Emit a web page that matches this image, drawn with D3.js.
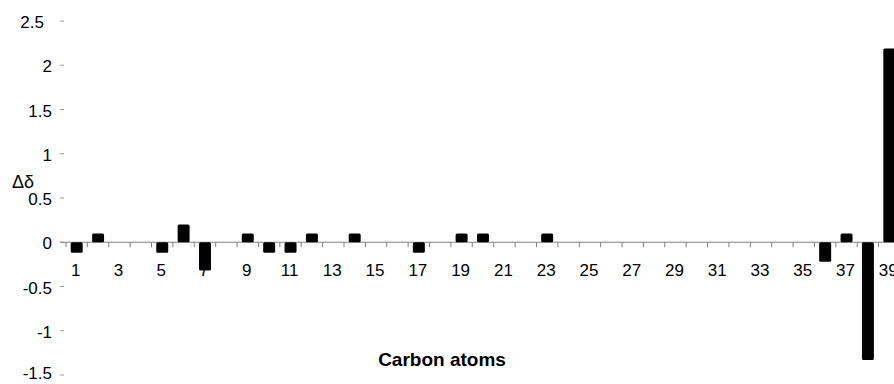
<!DOCTYPE html>
<html>
<head>
<meta charset="utf-8">
<script src="https://cdn.jsdelivr.net/npm/d3@7"></script>
<style>
    body { margin: 0; background: #fff; }
    text { font-family: "Liberation Sans", Arial, sans-serif; fill: #000; }
    .tick-label { font-size: 17px; }
    .axis-title { font-size: 19px; font-weight: bold; }
</style>
</head>
<body>
<div id="chart"></div>
<script>
const carbons = [1, 2, 3, 4, 5, 6, 7, 8, 9, 10, 11, 12, 13, 14, 15, 16, 17, 18, 19, 20,
    21, 22, 23, 24, 25, 26, 27, 28, 29, 30, 31, 32, 33, 34, 35, 36, 37, 38, 39];
const deltaValues = [-0.12, 0.1, 0, 0, -0.12, 0.2, -0.32, 0, 0.1, -0.12, -0.12, 0.1, 0, 0.1, 0, 0, -0.12, 0, 0.1, 0.1,
    0, 0, 0.1, 0, 0, 0, 0, 0, 0, 0, 0, 0, 0, 0, 0, -0.22, 0.1, -1.33, 2.19];
const yTicks = [-1.5, -1, -0.5, 0, 0.5, 1, 1.5, 2, 2.5];
const xLabels = [1, 3, 5, 7, 9, 11, 13, 15, 17, 19, 21, 23, 25, 27, 29, 31, 33, 35, 37, 39];

const WIDTH = 894;
const HEIGHT = 384;

const data = carbons.map((c, i) => ({ carbon: c, delta: deltaValues[i] }));

const xScale = d3.scaleBand()
    .domain(carbons)
    .range([66, 900])
    .paddingInner(0.44)
    .paddingOuter(0.22);

const yScale = d3.scaleLinear()
    .domain([-1.5, 2.5])
    .range([375, 21]);

const svg = d3.select('#chart')
    .append('svg')
    .attr('width', WIDTH)
    .attr('height', HEIGHT);

const y0 = yScale(0);

// y ticks and labels (no axis line)
const yAxis = svg.append('g');
yTicks.forEach(t => {
    yAxis.append('line')
        .attr('x1', 60)
        .attr('x2', 64)
        .attr('y1', yScale(t))
        .attr('y2', yScale(t))
        .attr('stroke', '#999')
        .attr('stroke-width', 1);
    yAxis.append('text')
        .attr('class', 'tick-label')
        .attr('x', t === 2.5 ? 44 : 52)
        .attr('y', Math.min(yScale(t) + 7, 379))
        .attr('text-anchor', 'end')
        .text(t);
});

// category axis along zero
svg.append('line')
    .attr('x1', 60)
    .attr('x2', WIDTH)
    .attr('y1', y0)
    .attr('y2', y0)
    .attr('stroke', '#808080')
    .attr('stroke-width', 1);

const step = xScale.step();
const start = xScale.range()[0];
carbons.forEach((c, i) => {
    svg.append('line')
        .attr('x1', start + i * step)
        .attr('x2', start + i * step)
        .attr('y1', y0)
        .attr('y2', y0 + 5)
        .attr('stroke', '#808080')
        .attr('stroke-width', 1);
});

// bars
svg.selectAll('rect.bar')
    .data(data.filter(d => d.delta !== 0))
    .enter()
    .append('rect')
    .attr('class', 'bar')
    .attr('x', d => xScale(d.carbon))
    .attr('width', xScale.bandwidth())
    .attr('y', d => yScale(Math.max(0, d.delta)))
    .attr('height', d => Math.abs(yScale(d.delta) - y0))
    .attr('rx', 1.5)
    .attr('fill', '#000');

// category labels
svg.selectAll('text.x-label')
    .data(xLabels)
    .enter()
    .append('text')
    .attr('class', 'tick-label x-label')
    .attr('x', d => xScale(d) + xScale.bandwidth() / 2 - 1)
    .attr('y', y0 + 34)
    .attr('text-anchor', 'middle')
    .text(d => d);

svg.append('text')
    .attr('class', 'axis-title')
    .attr('x', 442)
    .attr('y', 366)
    .attr('text-anchor', 'middle')
    .text('Carbon atoms');

svg.append('text')
    .attr('x', 12)
    .attr('y', 188)
    .style('font-size', '18px')
    .text('Δδ');
</script>
</body>
</html>
